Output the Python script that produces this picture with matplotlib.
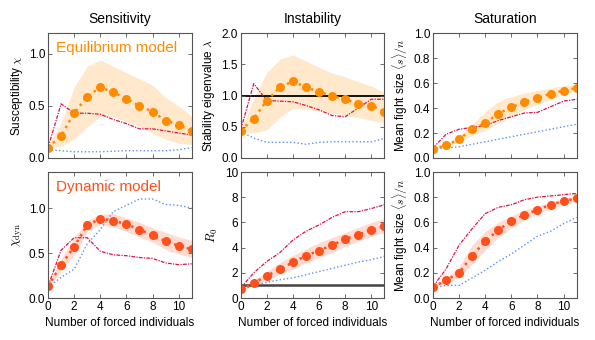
import numpy as np
import matplotlib
matplotlib.use("Agg")
import matplotlib.pyplot as plt

plt.rcParams['font.family'] = ['Liberation Sans', 'DejaVu Sans']
plt.rcParams['mathtext.fontset'] = 'cm'
plt.rcParams['xtick.direction'] = 'in'
plt.rcParams['ytick.direction'] = 'in'

# number of forced individuals
forced = list(range(12))

# equilibrium model
chi_mean = [0.10, 0.215, 0.43, 0.59, 0.68, 0.63, 0.57, 0.50, 0.445, 0.36, 0.32, 0.26]
chi_hi = [0.12, 0.33, 0.68, 0.88, 0.94, 0.88, 0.82, 0.76, 0.70, 0.58, 0.50, 0.40]
chi_lo = [0.10, 0.11, 0.18, 0.30, 0.40, 0.40, 0.35, 0.30, 0.24, 0.18, 0.14, 0.13]
chi_red = [0.10, 0.52, 0.43, 0.43, 0.42, 0.37, 0.33, 0.28, 0.28, 0.26, 0.24, 0.22]
chi_blue = [0.08, 0.07, 0.06, 0.06, 0.06, 0.065, 0.07, 0.07, 0.07, 0.07, 0.08, 0.10]

lam_mean = [0.44, 0.63, 0.92, 1.13, 1.23, 1.13, 1.06, 0.99, 0.94, 0.87, 0.84, 0.74]
lam_hi = [0.45, 0.95, 1.37, 1.58, 1.65, 1.55, 1.45, 1.36, 1.30, 1.22, 1.15, 1.05]
lam_lo = [0.42, 0.40, 0.45, 0.65, 0.80, 0.78, 0.75, 0.72, 0.68, 0.65, 0.60, 0.56]
lam_red = [0.45, 1.19, 0.92, 0.91, 0.90, 0.84, 0.77, 0.68, 0.66, 0.80, 0.94, 0.94]
lam_blue = [0.42, 0.32, 0.25, 0.25, 0.25, 0.22, 0.25, 0.26, 0.26, 0.26, 0.26, 0.31]

sat_mean = [0.075, 0.10, 0.15, 0.23, 0.28, 0.355, 0.405, 0.45, 0.48, 0.515, 0.54, 0.56]
sat_hi = [0.08, 0.11, 0.18, 0.27, 0.37, 0.45, 0.49, 0.52, 0.54, 0.56, 0.58, 0.59]
sat_lo = [0.07, 0.09, 0.13, 0.18, 0.22, 0.28, 0.33, 0.39, 0.43, 0.47, 0.51, 0.54]
sat_red = [0.08, 0.19, 0.23, 0.245, 0.26, 0.30, 0.33, 0.36, 0.365, 0.41, 0.455, 0.47]
sat_blue = [0.07, 0.08, 0.09, 0.11, 0.13, 0.15, 0.17, 0.19, 0.21, 0.23, 0.25, 0.27]

# dynamic model
chid_mean = [0.13, 0.37, 0.57, 0.81, 0.88, 0.86, 0.82, 0.76, 0.70, 0.63, 0.58, 0.54]
chid_hi = [0.15, 0.43, 0.67, 0.86, 0.93, 0.94, 0.89, 0.84, 0.78, 0.73, 0.68, 0.64]
chid_lo = [0.11, 0.30, 0.47, 0.74, 0.82, 0.79, 0.74, 0.68, 0.62, 0.54, 0.49, 0.45]
chid_red = [0.13, 0.53, 0.67, 0.67, 0.52, 0.48, 0.47, 0.45, 0.44, 0.39, 0.37, 0.38]
chid_blue = [0.12, 0.23, 0.32, 0.60, 0.76, 0.96, 1.03, 1.10, 1.10, 1.04, 1.03, 1.00]

r0_mean = [0.7, 1.2, 1.75, 2.3, 2.83, 3.36, 3.76, 4.2, 4.66, 5.03, 5.42, 5.69]
r0_hi = [0.8, 1.4, 2.1, 2.8, 3.4, 3.9, 4.4, 4.8, 5.2, 5.6, 6.0, 6.3]
r0_lo = [0.6, 1.0, 1.4, 1.9, 2.3, 2.8, 3.2, 3.6, 4.1, 4.5, 4.9, 5.2]
r0_red = [0.8, 2.0, 2.9, 3.6, 4.6, 5.3, 5.8, 6.4, 6.85, 6.85, 7.1, 7.4]
r0_blue = [0.6, 1.0, 1.25, 1.45, 1.6, 1.85, 2.1, 2.35, 2.6, 2.85, 3.05, 3.3]

satd_mean = [0.087, 0.14, 0.20, 0.336, 0.45, 0.54, 0.61, 0.66, 0.70, 0.74, 0.77, 0.79]
satd_hi = [0.09, 0.16, 0.25, 0.42, 0.53, 0.60, 0.65, 0.70, 0.73, 0.76, 0.79, 0.81]
satd_lo = [0.08, 0.12, 0.16, 0.27, 0.38, 0.48, 0.56, 0.62, 0.67, 0.71, 0.74, 0.77]
satd_red = [0.09, 0.23, 0.42, 0.55, 0.67, 0.72, 0.74, 0.78, 0.80, 0.81, 0.82, 0.83]
satd_blue = [0.08, 0.10, 0.10, 0.16, 0.22, 0.29, 0.35, 0.42, 0.49, 0.53, 0.59, 0.64]

eq_color = '#ff8c00'
dyn_color = '#ff4f1a'
red_color = '#dc1446'
blue_color = '#5b8ff9'

fig = plt.figure(figsize=(5.95, 3.4), dpi=100)

lefts = [0.0807, 0.4045, 0.7277]
width = 0.2415
bottoms = [0.5353, 0.1235]
heights = [0.3676, 0.3706]


def panel(ax, mean, hi, lo, red, blue, color, ylim, yticks):
    ax.fill_between(forced, lo, hi, color=color, alpha=0.2, lw=0)
    ax.plot(forced, blue, ':', color=blue_color, lw=1.0)
    ax.plot(forced, red, '-.', color=red_color, lw=0.9, dashes=(3, 1, 1, 1))
    ax.plot(forced, mean, ':', color=color, lw=1.8, marker='o', markersize=6.5, markeredgewidth=0)
    ax.set_xlim(0, 11)
    ax.set_ylim(*ylim)
    ax.set_yticks(yticks)
    ax.set_xticks([0, 2, 4, 6, 8, 10])
    ax.tick_params(labelsize=8.5, top=True, right=True, length=3, width=0.6, color='#555555', pad=2)
    for s in ax.spines.values():
        s.set_color('#555555')
        s.set_linewidth(0.8)


axes = []
for r in range(2):
    row = []
    for c in range(3):
        row.append(fig.add_axes([lefts[c], bottoms[r], width, heights[r]]))
    axes.append(row)

panel(axes[0][0], chi_mean, chi_hi, chi_lo, chi_red, chi_blue, eq_color, (0, 1.2), [0, 0.5, 1.0])
panel(axes[0][1], lam_mean, lam_hi, lam_lo, lam_red, lam_blue, eq_color, (0, 2.0), [0, 0.5, 1.0, 1.5, 2.0])
panel(axes[0][2], sat_mean, sat_hi, sat_lo, sat_red, sat_blue, eq_color, (0, 1.0), [0, 0.2, 0.4, 0.6, 0.8, 1.0])
panel(axes[1][0], chid_mean, chid_hi, chid_lo, chid_red, chid_blue, dyn_color, (0, 1.4), [0, 0.5, 1.0])
panel(axes[1][1], r0_mean, r0_hi, r0_lo, r0_red, r0_blue, dyn_color, (0, 10), [0, 2, 4, 6, 8, 10])
panel(axes[1][2], satd_mean, satd_hi, satd_lo, satd_red, satd_blue, dyn_color, (0, 1.0), [0, 0.2, 0.4, 0.6, 0.8, 1.0])

axes[0][1].axhline(1.0, color='black', lw=1.3, zorder=1)
axes[1][1].axhline(1.0, color='#444444', lw=1.8, zorder=1)

for ax in axes[0]:
    ax.set_xticklabels([])
for ax in axes[1]:
    ax.set_xlabel('Number of forced individuals', fontsize=8.5, labelpad=3)

for ax, t in zip(axes[0], ['Sensitivity', 'Instability', 'Saturation']):
    ax.set_title(t, fontsize=10, pad=7)

axes[0][0].set_ylabel(r'Susceptibility $\chi$', fontsize=8.5, labelpad=3)
axes[0][1].set_ylabel(r'Stability eigenvalue $\lambda$', fontsize=8.5, labelpad=3)
axes[0][2].set_ylabel(r'Mean fight size $\langle s\rangle/n$', fontsize=8.5, labelpad=3)
axes[1][0].set_ylabel(r'$\chi_{\rm dyn}$', fontsize=9, labelpad=3)
axes[1][1].set_ylabel(r'$R_0$', fontsize=9, labelpad=3)
axes[1][2].set_ylabel(r'Mean fight size $\langle s\rangle/n$', fontsize=8.5, labelpad=3)

axes[0][0].text(0.055, 0.94, 'Equilibrium model', transform=axes[0][0].transAxes,
                color=eq_color, fontsize=11, va='top', ha='left')
axes[1][0].text(0.055, 0.94, 'Dynamic model', transform=axes[1][0].transAxes,
                color=dyn_color, fontsize=11, va='top', ha='left')

fig.savefig('out.png', dpi=100)
